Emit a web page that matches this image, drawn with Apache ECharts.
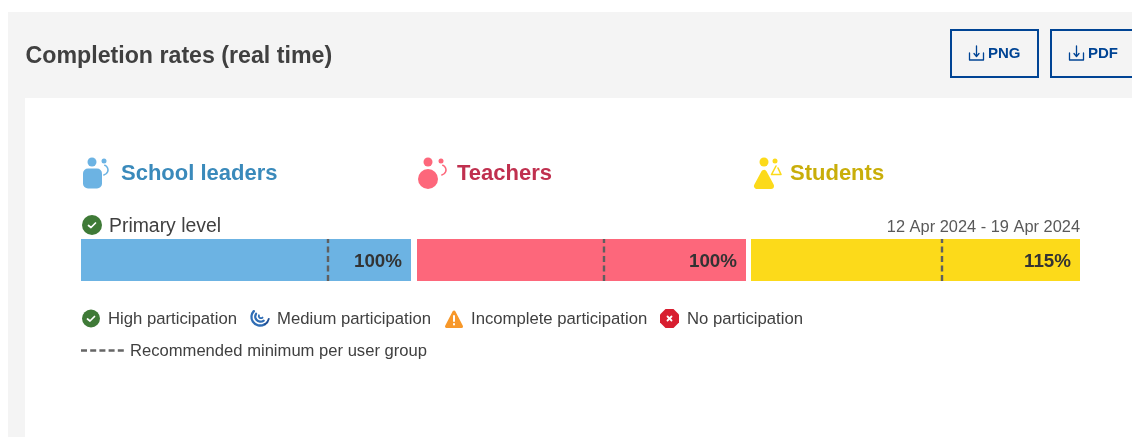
<!DOCTYPE html>
<html>
<head>
<meta charset="utf-8">
<title>Completion rates</title>
<style>
  html, body { margin: 0; padding: 0; background: #fff; }
  #chart { width: 1132px; height: 437px; }
</style>
<script src="https://cdn.jsdelivr.net/npm/echarts@6/dist/echarts.min.js"></script>
</head>
<body>
<div id="chart"></div>
<script>
var pageTitle = 'Completion rates (real time)';
var buttonLabels = ['PNG', 'PDF'];
var groups = ['School leaders', 'Teachers', 'Students'];
var completion = [100, 100, 115];
var recommendedMin = [74.7, 56.8, 66.7];
var levelName = 'Primary level';
var dateRange = '12 Apr 2024 - 19 Apr 2024';
var statusLabels = ['High participation', 'Medium participation', 'Incomplete participation', 'No participation'];
var minimumLabel = 'Recommended minimum per user group';

var barColors = ['#6cb3e3', '#fd677b', '#fcda1a'];
var headColors = ['#3a8abb', '#c0304f', '#c9ae0a'];
var FONT = '"Liberation Sans", Arial, sans-serif';
var BLUE = '#004494';

var chart = echarts.init(document.getElementById('chart'));

//一 helpers for the page furniture
function txt (s, x, y, size, fill, weight, align) {
  return {
    type: 'text', silent: true, z: 5,
    style: {
      text: s, x: x, y: y, fill: fill, align: align || 'left', verticalAlign: 'middle',
      font: (weight || 'normal') + ' ' + size + 'px ' + FONT
    }
  };
}
function dot (x, y, r, fill) {
  return { type: 'circle', silent: true, z: 5, shape: { cx: x, cy: y, r: r }, style: { fill: fill } };
}
function arc (x, y, r, a, b, color, w) {
  return {
    type: 'arc', silent: true, z: 5,
    shape: { cx: x, cy: y, r: r, startAngle: a, endAngle: b, clockwise: true },
    style: { stroke: color, fill: null, lineWidth: w, lineCap: 'round' }
  };
}
function line (points, color, w) {
  return {
    type: 'polyline', silent: true, z: 6, shape: { points: points },
    style: { stroke: color, lineWidth: w, fill: null, lineCap: 'round', lineJoin: 'round' }
  };
}
function poly (points, fill, round) {
  return {
    type: 'polygon', silent: true, z: 5, shape: { points: points },
    style: { fill: fill, stroke: round ? fill : null, lineWidth: round || 0, lineJoin: 'round' }
  };
}
function checkBadge (x, y, r) {
  return [
    dot(x, y, r, '#3f7a37'),
    line([[x - 3.5, y + 0.5], [x - 1, y + 2.5], [x + 3.5, y - 2]], '#fff', 1.7)
  ];
}
function downloadIcon (x, y) {
  return [
    line([[x + 0.5, y + 7], [x + 0.5, y + 14], [x + 14.5, y + 14], [x + 14.5, y + 7]], BLUE, 1.3),
    line([[x + 7.5, y], [x + 7.5, y + 10]], BLUE, 1.3),
    line([[x + 5, y + 7.5], [x + 7.5, y + 10.5], [x + 10, y + 7.5]], BLUE, 1.3)
  ];
}
function button (x, w, label) {
  return [
    {
      type: 'rect', silent: true, z: 4, shape: { x: x, y: 30, width: w, height: 47 },
      style: { fill: '#f4f4f4', stroke: BLUE, lineWidth: 2 }
    },
    txt(label, x + 37, 54, 15, BLUE, 'bold')
  ].concat(downloadIcon(x + 18, 46));
}

var graphics = [
  { type: 'rect', silent: true, z: 1, shape: { x: 8, y: 12, width: 1124, height: 425 }, style: { fill: '#f4f4f4' } },
  { type: 'rect', silent: true, z: 2, shape: { x: 25, y: 98, width: 1107, height: 339 }, style: { fill: '#fff' } },
  txt(pageTitle, 25.5, 57, 23.2, '#404040', 'bold')
];
graphics = graphics.concat(button(951, 87, buttonLabels[0]), button(1051, 90, buttonLabels[1]));

// group icons
graphics.push(
  dot(92, 162, 4.5, barColors[0]), dot(104, 161, 2.5, barColors[0]),
  { type: 'rect', silent: true, z: 5, shape: { x: 83, y: 168.5, width: 19, height: 20, r: 5 }, style: { fill: barColors[0] } },
  arc(103, 170, 5, -1.2, 1.4, barColors[0], 1.6),
  dot(428, 162, 4.5, barColors[1]), dot(441, 161, 2.5, barColors[1]),
  dot(428, 179, 10, barColors[1]),
  arc(441, 170, 5, -1.2, 1.4, barColors[1], 1.6),
  dot(764, 162, 4.5, barColors[2]), dot(775, 161, 2.5, barColors[2]),
  poly([[764, 173], [757, 186], [771, 186]], barColors[2], 6),
  line([[776, 166], [771.5, 174.5], [781, 174.5], [778, 168]], barColors[2], 1.6)
);
graphics.push(
  txt(groups[0], 121, 174, 22, headColors[0], 'bold'),
  txt(groups[1], 457, 174, 22, headColors[1], 'bold'),
  txt(groups[2], 790, 174, 22, headColors[2], 'bold')
);

// level row
graphics = graphics.concat(checkBadge(92, 225, 10));
graphics.push(
  txt(levelName, 109, 227, 19.4, '#404040'),
  txt(dateRange, 1080, 227, 16.4, '#595959', 'normal', 'right')
);

// status key
graphics = graphics.concat(checkBadge(91, 318.5, 9));
graphics.push(txt(statusLabels[0], 108, 319, 16.7, '#404040'));
graphics.push(
  arc(260, 317, 8.5, 1.0, 3.9, '#2f6db5', 2.4),
  arc(260.5, 316.5, 5.2, 0.9, 3.7, '#2f6db5', 2.2),
  arc(261, 316, 2.2, 0.8, 3.5, '#2f6db5', 1.8),
  arc(260, 317, 9, 0.2, 1.0, '#1f4f96', 1.8)
);
graphics.push(txt(statusLabels[1], 277, 319, 16.7, '#404040'));
graphics.push(
  poly([[454, 312], [446.5, 326.5], [461.5, 326.5]], '#f7982a', 3),
  line([[454, 316], [454, 321]], '#fff', 2),
  line([[454, 324], [454, 324.4]], '#fff', 2)
);
graphics.push(txt(statusLabels[2], 471, 319, 16.7, '#404040'));
graphics.push(
  poly([[665.5, 309], [673.5, 309], [679, 314.5], [679, 322.5], [673.5, 328], [665.5, 328], [660, 322.5], [660, 314.5]], '#d81e30'),
  line([[667.5, 316.5], [671.5, 320.5]], '#fff', 1.8),
  line([[671.5, 316.5], [667.5, 320.5]], '#fff', 1.8)
);
graphics.push(txt(statusLabels[3], 687, 319, 16.7, '#404040'));

// dashed key
graphics.push({
  type: 'line', silent: true, z: 5, shape: { x1: 81, y1: 350.5, x2: 124, y2: 350.5 },
  style: { stroke: '#666', lineWidth: 2.5, lineDash: [6, 3.2] }
});
graphics.push(txt(minimumLabel, 130, 351, 16.6, '#404040'));

// one small grid per user group
var gridLefts = [81, 417, 751];
var gridWidths = [330, 329, 329];
var grids = [], xAxes = [], yAxes = [], series = [];
groups.forEach(function (name, i) {
  grids.push({ left: gridLefts[i], width: gridWidths[i], top: 239, height: 42, containLabel: false });
  xAxes.push({ type: 'value', gridIndex: i, min: 0, max: completion[i], show: false });
  yAxes.push({ type: 'category', gridIndex: i, data: [levelName], show: false });
  series.push({
    name: name,
    type: 'bar',
    xAxisIndex: i,
    yAxisIndex: i,
    barWidth: '100%',
    data: [completion[i]],
    itemStyle: { color: barColors[i] },
    z: 10,
    label: {
      show: true,
      position: 'insideRight',
      distance: 9,
      offset: [0, 2],
      formatter: '{c}%',
      color: '#333',
      fontFamily: FONT,
      fontWeight: 'bold',
      fontSize: 18.8
    },
    markLine: {
      silent: true,
      z: 20,
      symbol: 'none',
      label: { show: false },
      lineStyle: { color: '#5f5f5f', type: [6, 3.5], width: 2.4 },
      data: [{ xAxis: recommendedMin[i] }]
    }
  });
});

var option = {
  animation: false,
  grid: grids,
  xAxis: xAxes,
  yAxis: yAxes,
  series: series,
  graphic: graphics
};
chart.setOption(option, true);
</script>
</body>
</html>
